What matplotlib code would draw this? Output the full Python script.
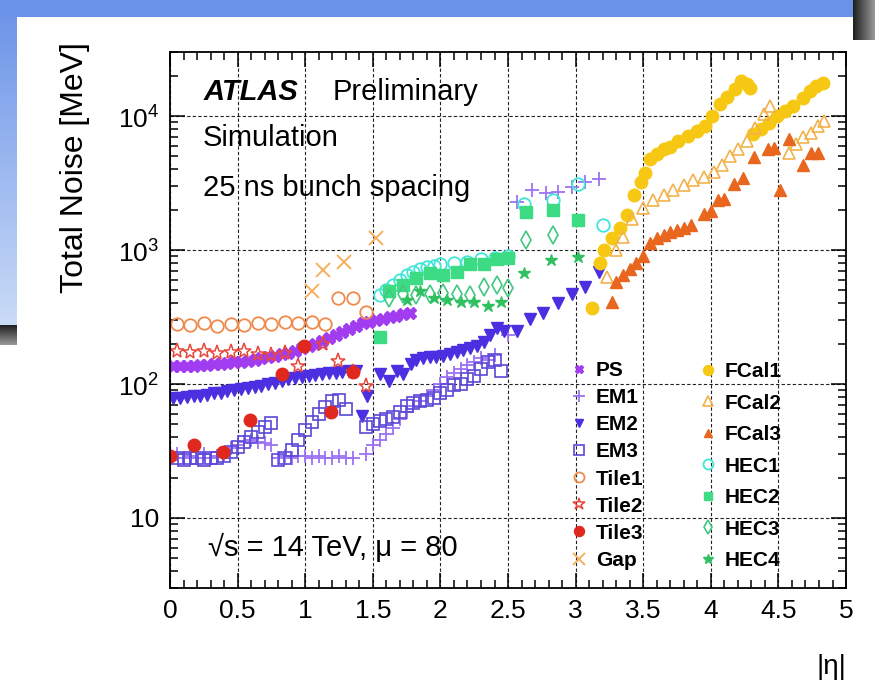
import numpy as np
import matplotlib
matplotlib.use("Agg")
import matplotlib.pyplot as plt

plt.rcParams['font.family'] = ['Liberation Sans', 'DejaVu Sans']
plt.rcParams['mathtext.fontset'] = 'custom'
plt.rcParams['mathtext.rm'] = 'Liberation Sans'

# ---- data (|eta|, total noise in MeV) ----
ps_eta = np.arange(0.025, 1.8, 0.05)
ps_noise = [136, 136, 137, 137, 138, 139, 140, 141, 143, 145, 147, 149, 152, 155, 158, 162, 166, 171,
            177, 184, 192, 200, 210, 220, 232, 245, 258, 272, 285, 290, 298, 306, 314, 322, 330, 340]

em1_eta = [0.05, 0.1, 0.15, 0.2, 0.25, 0.3, 0.35, 0.4, 0.45, 0.5, 0.55, 0.6, 0.65, 0.7, 0.75, 0.8, 0.85,
           0.9, 0.95, 1.0, 1.05, 1.1, 1.15, 1.2, 1.25, 1.3, 1.35,
           1.45, 1.5, 1.55, 1.6, 1.65, 1.7, 1.75, 1.8, 1.85, 1.9, 1.95, 2.0, 2.05, 2.1, 2.15, 2.2, 2.25,
           2.3, 2.35, 2.4, 2.5,
           2.57, 2.68, 2.78, 2.87, 2.97, 3.07, 3.17]
em1_noise = [30, 28, 29, 28, 30, 28, 29, 30, 33, 35, 37, 38, 37, 36, 35, 28, 29, 28, 29, 29, 28, 29, 28,
             28, 29, 28, 28,
             30, 35, 38, 42, 47, 55, 62, 68, 75, 82, 90, 100, 112, 120, 130, 138, 145, 155, 150, 165, 230,
             2270, 2780, 2640, 2700, 2930, 3190, 3360]

em2_eta = list(np.arange(0.025, 1.4, 0.05)) + [
    1.42, 1.46, 1.55, 1.62, 1.68, 1.72, 1.78, 1.82, 1.87, 1.92, 1.97, 2.02, 2.07, 2.12, 2.17, 2.22,
    2.27, 2.32, 2.37, 2.42, 2.47, 2.57, 2.66, 2.76, 2.87, 2.97, 3.07, 3.17]
em2_noise = [78, 79, 80, 81, 82, 83, 85, 86, 88, 90, 92, 93, 95, 97, 100, 102, 105, 108, 110, 112, 114,
             116, 118, 120, 121, 122, 124, 125,
             58, 81, 119, 105, 125, 118, 140, 150, 155, 158, 160, 163, 167, 172, 178, 185, 192, 205,
             230, 260, 250, 247, 305, 341, 405, 472, 532, 687]

em3_eta = list(np.arange(0.05, 1.31, 0.05)) + list(np.arange(1.45, 2.46, 0.05))
em3_noise = [28, 27, 28, 28, 27, 28, 28, 29, 31, 34, 37, 40, 44, 48, 51, 27, 28, 32, 38, 45, 52, 60, 67,
             74, 76, 65,
             48, 50, 53, 55, 57, 62, 68, 72, 75, 76, 78, 85, 90, 98, 100, 108, 115, 130, 145, 150, 125]

tile1_eta = [0.05, 0.15, 0.25, 0.35, 0.45, 0.55, 0.65, 0.75, 0.85, 0.95, 1.05, 1.15, 1.24, 1.35, 1.45]
tile1_noise = [280, 275, 285, 270, 280, 275, 285, 280, 290, 285, 290, 280, 440, 440, 345]

tile2_eta = [0.05, 0.15, 0.25, 0.35, 0.45, 0.55, 0.65, 0.75, 0.85, 0.95, 1.13, 1.24, 1.35, 1.45]
tile2_noise = [175, 172, 175, 170, 172, 175, 168, 165, 170, 136, 200, 148, 123, 97]

tile3_eta = [0.0, 0.18, 0.39, 0.59, 0.83, 0.99, 1.19, 1.35]
tile3_noise = [29, 35, 31, 54, 119, 191, 62, 123]

gap_eta = [1.05, 1.13, 1.29, 1.52]
gap_noise = [490, 710, 815, 1230]

fcal1_eta = [3.12, 3.18, 3.21, 3.27, 3.33, 3.38, 3.43, 3.48, 3.51, 3.55, 3.6, 3.65, 3.7, 3.76, 3.83,
             3.9, 3.96, 4.01, 4.07, 4.12, 4.18, 4.22, 4.27, 4.29,
             4.31, 4.37, 4.43, 4.49, 4.55, 4.61, 4.68, 4.73, 4.78, 4.83]
fcal1_noise = [372, 801, 1000, 1228, 1456, 1815, 2550, 3190, 3780, 4800, 5230, 5700, 5890, 6530, 7110,
               7740, 8440, 10000, 12270, 13840, 15850, 18150, 17250, 16100,
               7360, 8010, 8880, 10000, 10890, 11860, 13600, 15310, 16680, 17550]

fcal2_eta = [3.23, 3.3, 3.35, 3.42, 3.5, 3.57, 3.65, 3.72, 3.8, 3.87, 3.95, 4.02, 4.08, 4.14, 4.2, 4.27,
             4.33, 4.39, 4.44, 4.58, 4.63, 4.68, 4.74, 4.79, 4.84]
fcal2_noise = [630, 1000, 1250, 1700, 2050, 2350, 2550, 2800, 3050, 3300, 3500, 3800, 4300, 5000, 5700,
               6500, 8100, 10300, 11800, 5300, 6200, 7000, 7400, 8400, 9200]

fcal3_eta = [3.27, 3.3, 3.35, 3.4, 3.45, 3.5, 3.55, 3.6, 3.65, 3.7, 3.75, 3.8, 3.85, 3.95, 4.0, 4.05,
             4.1, 4.17, 4.24, 4.32, 4.42, 4.47, 4.51, 4.58, 4.68, 4.74, 4.79]
fcal3_noise = [410, 580, 650, 720, 800, 900, 1130, 1230, 1290, 1360, 1420, 1460, 1530, 1850, 1950, 2340,
               2400, 3130, 3450, 4900, 5700, 5800, 2780, 6760, 4300, 5300, 5300]

hec1_eta = [1.55, 1.6, 1.65, 1.7, 1.75, 1.8, 1.85, 1.9, 1.95, 2.0, 2.1, 2.2, 2.3, 2.4, 2.5, 2.62, 2.83,
            3.02, 3.2]
hec1_noise = [460, 500, 550, 600, 650, 690, 720, 740, 760, 780, 800, 820, 850, 870, 900, 2200, 2350,
              3100, 1530]

hec2_eta = [1.55, 1.62, 1.72, 1.82, 1.92, 2.02, 2.12, 2.22, 2.32, 2.42, 2.5, 2.63, 2.83, 3.02]
hec2_noise = [223, 490, 550, 620, 670, 650, 680, 790, 780, 850, 870, 1910, 1990, 1670]

hec3_eta = [1.62, 1.72, 1.82, 1.92, 2.02, 2.12, 2.22, 2.32, 2.42, 2.5, 2.63, 2.83]
hec3_noise = [440, 470, 460, 470, 480, 470, 460, 530, 550, 520, 1190, 1290]

hec4_eta = [1.75, 1.85, 1.95, 2.05, 2.15, 2.25, 2.35, 2.45, 2.62, 2.82, 3.02]
hec4_noise = [420, 490, 440, 425, 410, 410, 380, 410, 676, 843, 887]

xtick_vals = [0, 0.5, 1, 1.5, 2, 2.5, 3, 3.5, 4, 4.5, 5]
xtick_labels = ['0', '0.5', '1', '1.5', '2', '2.5', '3', '3.5', '4', '4.5', '5']
ytick_vals = [10, 100, 1000, 10000]
ytick_labels = ['10', '$10^2$', '$10^3$', '$10^4$']

fig = plt.figure(figsize=(8.75, 6.88), dpi=100)

# slide background around the plot (pixel coordinates)
bg = fig.add_axes([0, 0, 1, 1], zorder=-5)
bg.set_xlim(0, 875)
bg.set_ylim(688, 0)
bg.axis('off')
blue = plt.matplotlib.colors.LinearSegmentedColormap.from_list('b', ['#6a92e8', '#c9dbf6'])
grey = plt.matplotlib.colors.LinearSegmentedColormap.from_list('g', ['#1e1e1e', '#9a9a9a'])
vgrad = np.linspace(0, 1, 100).reshape(-1, 1)
bg.imshow(vgrad, cmap=blue, extent=(0, 17, 325, 0), aspect='auto')
bg.imshow(np.zeros((2, 2)), cmap=blue, extent=(0, 875, 17, 0), aspect='auto')
bg.imshow(vgrad, cmap=grey, extent=(0, 17, 345, 325), aspect='auto')
bg.imshow(np.linspace(0, 1, 50).reshape(1, -1), cmap=grey, extent=(853, 875, 40, 0), aspect='auto')

ax = fig.add_axes([0.1943, 0.1453, 0.7726, 0.7791])

series = [
    ('PS', ps_eta, ps_noise, dict(marker='X', color='#a23cf0', ms=8, mec='#a23cf0')),
    ('EM1', em1_eta, em1_noise, dict(marker='+', color='#9b72f5', ms=10, mew=1.3)),
    ('EM2', em2_eta, em2_noise, dict(marker='v', color='#4b2fe0', ms=8)),
    ('EM3', em3_eta, em3_noise, dict(marker='s', color='#5b48d8', ms=9, mfc='none', mew=1.2)),
    ('Tile1', tile1_eta, tile1_noise, dict(marker='o', color='#f08a4b', ms=9, mfc='none', mew=1.3)),
    ('Tile2', tile2_eta, tile2_noise, dict(marker='*', color='#e8483c', ms=11, mfc='none', mew=1.1)),
    ('Tile3', tile3_eta, tile3_noise, dict(marker='o', color='#e0281e', ms=9)),
    ('Gap', gap_eta, gap_noise, dict(marker='x', color='#f5b060', ms=10, mew=1.4)),
    ('FCal1', fcal1_eta, fcal1_noise, dict(marker='o', color='#f7c813', ms=9)),
    ('FCal2', fcal2_eta, fcal2_noise, dict(marker='^', color='#f3b14a', ms=9, mfc='none', mew=1.2)),
    ('FCal3', fcal3_eta, fcal3_noise, dict(marker='^', color='#e8661e', ms=8)),
    ('HEC1', hec1_eta, hec1_noise, dict(marker='o', color='#40e6d8', ms=9, mfc='none', mew=1.3)),
    ('HEC2', hec2_eta, hec2_noise, dict(marker='s', color='#3ddc84', ms=8)),
    ('HEC3', hec3_eta, hec3_noise, dict(marker='d', color='#40c880', ms=9, mfc='none', mew=1.2)),
    ('HEC4', hec4_eta, hec4_noise, dict(marker='*', color='#2fc060', ms=9)),
]

handles = []
for name, xs, ys, style in series:
    h, = ax.plot(xs, ys, ls='none', label=name, **style)
    handles.append(h)

ax.set_yscale('log')
ax.set_xlim(0, 5)
ax.set_ylim(3, 3e4)
ax.set_xticks(xtick_vals)
ax.set_xticklabels(xtick_labels)
ax.set_xticks(np.arange(0, 5.01, 0.1), minor=True)
ax.set_yticks(ytick_vals)
ax.set_yticklabels(ytick_labels)
ax.yaxis.set_minor_locator(matplotlib.ticker.LogLocator(base=10, subs=np.arange(2, 10)))
ax.yaxis.set_minor_formatter(matplotlib.ticker.NullFormatter())
ax.tick_params(which='both', direction='in', top=True, right=True, labelsize=19, width=1.1)
ax.tick_params(which='major', length=11, pad=8)
ax.tick_params(which='minor', length=5.5)
for sp in ax.spines.values():
    sp.set_linewidth(1.3)
ax.grid(True, which='major', ls=(0, (3, 2)), color='#222222', lw=0.8)
ax.set_axisbelow(True)

fig.text(0.0857, 0.756, 'Total Noise [MeV]', rotation=90, ha='center', va='center', fontsize=23)
ax.set_xlabel('|η|', loc='right', fontsize=20, labelpad=22)

ax.text(0.049, 0.925, 'ATLAS', transform=ax.transAxes, fontsize=21, fontweight='bold',
        style='italic', va='center')
ax.text(0.24, 0.925, 'Preliminary', transform=ax.transAxes, fontsize=21, va='center')
ax.text(0.049, 0.840, 'Simulation', transform=ax.transAxes, fontsize=21, va='center')
ax.text(0.049, 0.746, '25 ns bunch spacing', transform=ax.transAxes, fontsize=21, va='center')
ax.text(0.056, 0.0765, '√s = 14 TeV, μ = 80', transform=ax.transAxes, fontsize=21, va='center')

leg_kw = dict(frameon=False, borderpad=0, borderaxespad=0, handlelength=1.0, handletextpad=0.3,
              prop={'weight': 'bold', 'size': 15}, markerscale=0.8, loc='upper left')
leg1 = ax.legend(handles[:8], [s[0] for s in series[:8]], bbox_to_anchor=(0.5896, 0.4235),
                 labelspacing=0.39, **leg_kw)
ax.add_artist(leg1)
ax.legend(handles[8:], [s[0] for s in series[8:]], bbox_to_anchor=(0.7805, 0.4216),
          labelspacing=0.6, **leg_kw)

fig.savefig('out.png', dpi=100)
